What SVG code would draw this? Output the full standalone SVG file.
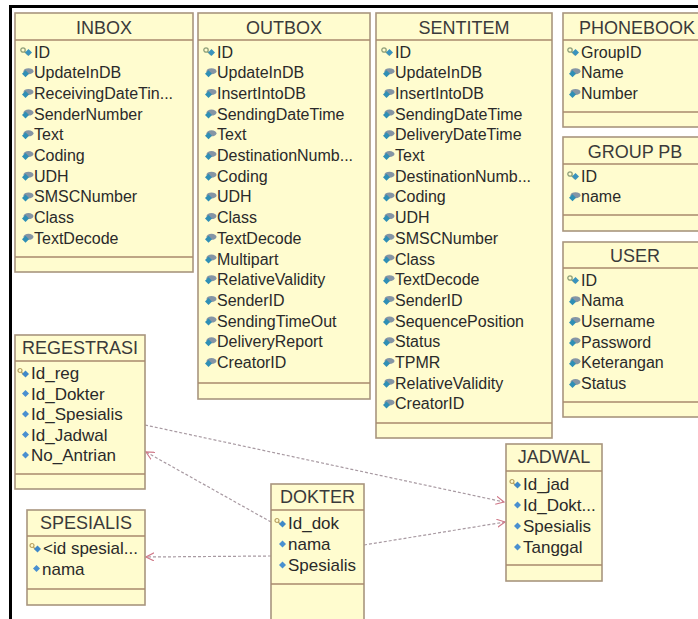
<svg xmlns="http://www.w3.org/2000/svg" xmlns:xlink="http://www.w3.org/1999/xlink" width="698" height="619" viewBox="0 0 698 619">
<style>
.box{fill:#fffccf;stroke:#a8957e;stroke-width:1.6}
.sep{stroke:#a88a6c;stroke-width:1.4}
.h{font-family:"Liberation Sans",Arial,sans-serif;font-size:18px;fill:#3a3a3a;text-anchor:middle}
.t{font-family:"Liberation Sans",Arial,sans-serif;font-size:16px;fill:#2a2a2a}
.l{font-family:"Liberation Sans",Arial,sans-serif;font-size:17px;fill:#2a2a2a}
.c{fill:none;stroke:#a89aa2;stroke-width:1.2;stroke-dasharray:3 2}
</style>
<defs>
<g id="fa"><ellipse cx="7.5" cy="3.5" rx="5" ry="3" fill="#8595a5"/><path d="M1,6 L4.5,2.5 L8,6 L4.5,9.5Z" fill="#2f8fb5"/></g>
<g id="pk"><circle cx="3" cy="3" r="2.2" fill="none" stroke="#8fa07a" stroke-width="1.3"/><path d="M4.5,4.5 L8,8" stroke="#8fa07a" stroke-width="1.3"/><path d="M5,5.5 L8.5,2 L12,5.5 L8.5,9Z" fill="#3a93bd"/></g>
<g id="dm"><path d="M1,5 L4.5,1.5 L8,5 L4.5,8.5Z" fill="#4a90d0"/></g>
<g id="lk"><circle cx="3" cy="2.5" r="2" fill="none" stroke="#b8a060" stroke-width="1.2"/><path d="M4.3,4 L7,7" stroke="#b8a060" stroke-width="1.2"/><path d="M5,6 L8.5,2.5 L12,6 L8.5,9.5Z" fill="#3f88c8"/></g>
<marker id="ar" viewBox="0 0 10 10" refX="9" refY="5" markerWidth="9" markerHeight="9" markerUnits="userSpaceOnUse" orient="auto"><path d="M0,0.5 L9,5 L0,9.5" fill="none" stroke="#d07888" stroke-width="1.3"/></marker>
</defs>
<rect width="698" height="619" fill="#ffffff"/>
<rect x="9" y="5" width="689" height="3" fill="#000"/>
<rect x="9" y="5" width="3" height="614" fill="#000"/>

<g id="inbox">
<rect class="box" x="15" y="13" width="178" height="259"/>
<line class="sep" x1="15" y1="40" x2="193" y2="40"/>
<line class="sep" x1="15" y1="257" x2="193" y2="257"/>
<text class="h" x="104" y="34">INBOX</text>
<use href="#pk" x="20" y="47"/><text class="t" x="34" y="57.5">ID</text>
<use href="#fa" x="21" y="67.7"/><text class="t" x="34" y="78.2">UpdateInDB</text>
<use href="#fa" x="21" y="88.4"/><text class="t" x="34" y="98.9">ReceivingDateTin...</text>
<use href="#fa" x="21" y="109.1"/><text class="t" x="34" y="119.6">SenderNumber</text>
<use href="#fa" x="21" y="129.8"/><text class="t" x="34" y="140.3">Text</text>
<use href="#fa" x="21" y="150.5"/><text class="t" x="34" y="161">Coding</text>
<use href="#fa" x="21" y="171.2"/><text class="t" x="34" y="181.7">UDH</text>
<use href="#fa" x="21" y="191.9"/><text class="t" x="34" y="202.4">SMSCNumber</text>
<use href="#fa" x="21" y="212.6"/><text class="t" x="34" y="223.1">Class</text>
<use href="#fa" x="21" y="233.3"/><text class="t" x="34" y="243.8">TextDecode</text>
</g>

<g id="outbox">
<rect class="box" x="198" y="13" width="172" height="386"/>
<line class="sep" x1="198" y1="40" x2="370" y2="40"/>
<line class="sep" x1="198" y1="383" x2="370" y2="383"/>
<text class="h" x="284" y="34">OUTBOX</text>
<use href="#pk" x="203" y="47"/><text class="t" x="217" y="57.5">ID</text>
<use href="#fa" x="204" y="67.7"/><text class="t" x="217" y="78.2">UpdateInDB</text>
<use href="#fa" x="204" y="88.4"/><text class="t" x="217" y="98.9">InsertIntoDB</text>
<use href="#fa" x="204" y="109.1"/><text class="t" x="217" y="119.6">SendingDateTime</text>
<use href="#fa" x="204" y="129.8"/><text class="t" x="217" y="140.3">Text</text>
<use href="#fa" x="204" y="150.5"/><text class="t" x="217" y="161">DestinationNumb...</text>
<use href="#fa" x="204" y="171.2"/><text class="t" x="217" y="181.7">Coding</text>
<use href="#fa" x="204" y="191.9"/><text class="t" x="217" y="202.4">UDH</text>
<use href="#fa" x="204" y="212.6"/><text class="t" x="217" y="223.1">Class</text>
<use href="#fa" x="204" y="233.3"/><text class="t" x="217" y="243.8">TextDecode</text>
<use href="#fa" x="204" y="254"/><text class="t" x="217" y="264.5">Multipart</text>
<use href="#fa" x="204" y="274.7"/><text class="t" x="217" y="285.2">RelativeValidity</text>
<use href="#fa" x="204" y="295.4"/><text class="t" x="217" y="305.9">SenderID</text>
<use href="#fa" x="204" y="316.1"/><text class="t" x="217" y="326.6">SendingTimeOut</text>
<use href="#fa" x="204" y="336.8"/><text class="t" x="217" y="347.3">DeliveryReport</text>
<use href="#fa" x="204" y="357.5"/><text class="t" x="217" y="368">CreatorID</text>
</g>

<g id="sentitem">
<rect class="box" x="376" y="13" width="176" height="425"/>
<line class="sep" x1="376" y1="40" x2="552" y2="40"/>
<line class="sep" x1="376" y1="423" x2="552" y2="423"/>
<text class="h" x="464" y="34">SENTITEM</text>
<use href="#pk" x="381" y="47"/><text class="t" x="395" y="57.5">ID</text>
<use href="#fa" x="382" y="67.7"/><text class="t" x="395" y="78.2">UpdateInDB</text>
<use href="#fa" x="382" y="88.4"/><text class="t" x="395" y="98.9">InsertIntoDB</text>
<use href="#fa" x="382" y="109.1"/><text class="t" x="395" y="119.6">SendingDateTime</text>
<use href="#fa" x="382" y="129.8"/><text class="t" x="395" y="140.3">DeliveryDateTime</text>
<use href="#fa" x="382" y="150.5"/><text class="t" x="395" y="161">Text</text>
<use href="#fa" x="382" y="171.2"/><text class="t" x="395" y="181.7">DestinationNumb...</text>
<use href="#fa" x="382" y="191.9"/><text class="t" x="395" y="202.4">Coding</text>
<use href="#fa" x="382" y="212.6"/><text class="t" x="395" y="223.1">UDH</text>
<use href="#fa" x="382" y="233.3"/><text class="t" x="395" y="243.8">SMSCNumber</text>
<use href="#fa" x="382" y="254"/><text class="t" x="395" y="264.5">Class</text>
<use href="#fa" x="382" y="274.7"/><text class="t" x="395" y="285.2">TextDecode</text>
<use href="#fa" x="382" y="295.4"/><text class="t" x="395" y="305.9">SenderID</text>
<use href="#fa" x="382" y="316.1"/><text class="t" x="395" y="326.6">SequencePosition</text>
<use href="#fa" x="382" y="336.8"/><text class="t" x="395" y="347.3">Status</text>
<use href="#fa" x="382" y="357.5"/><text class="t" x="395" y="368">TPMR</text>
<use href="#fa" x="382" y="378.2"/><text class="t" x="395" y="388.7">RelativeValidity</text>
<use href="#fa" x="382" y="398.9"/><text class="t" x="395" y="409.4">CreatorID</text>
</g>

<g id="phonebook">
<rect class="box" x="563" y="13" width="150" height="114"/>
<line class="sep" x1="563" y1="40" x2="713" y2="40"/>
<line class="sep" x1="563" y1="112" x2="713" y2="112"/>
<text class="h" x="637" y="34">PHONEBOOK</text>
<use href="#pk" x="567" y="47"/><text class="t" x="581" y="57.5">GroupID</text>
<use href="#fa" x="568" y="67.7"/><text class="t" x="581" y="78.2">Name</text>
<use href="#fa" x="568" y="88.4"/><text class="t" x="581" y="98.9">Number</text>
</g>

<g id="grouppb">
<rect class="box" x="563" y="137" width="150" height="94"/>
<line class="sep" x1="563" y1="164" x2="713" y2="164"/>
<line class="sep" x1="563" y1="215" x2="713" y2="215"/>
<text class="h" x="635" y="158">GROUP PB</text>
<use href="#pk" x="567" y="171"/><text class="t" x="581" y="181.5">ID</text>
<use href="#fa" x="568" y="191.7"/><text class="t" x="581" y="202.2">name</text>
</g>

<g id="user">
<rect class="box" x="563" y="242" width="150" height="175"/>
<line class="sep" x1="563" y1="268" x2="713" y2="268"/>
<line class="sep" x1="563" y1="402" x2="713" y2="402"/>
<text class="h" x="635" y="262">USER</text>
<use href="#pk" x="567" y="275"/><text class="t" x="581" y="285.5">ID</text>
<use href="#fa" x="568" y="295.7"/><text class="t" x="581" y="306.2">Nama</text>
<use href="#fa" x="568" y="316.4"/><text class="t" x="581" y="326.9">Username</text>
<use href="#fa" x="568" y="337.1"/><text class="t" x="581" y="347.6">Password</text>
<use href="#fa" x="568" y="357.8"/><text class="t" x="581" y="368.3">Keterangan</text>
<use href="#fa" x="568" y="378.5"/><text class="t" x="581" y="389">Status</text>
</g>

<g id="connectors">
<path class="c" d="M145,425 L504,502" marker-end="url(#ar)"/>
<path class="c" d="M271,522 L146,452" marker-end="url(#ar)"/>
<path class="c" d="M271,556 L146,557" marker-end="url(#ar)"/>
<path class="c" d="M364,545 L505,522" marker-end="url(#ar)"/>
</g>

<g id="regestrasi">
<rect class="box" x="15" y="335" width="130" height="154"/>
<line class="sep" x1="15" y1="361" x2="145" y2="361"/>
<line class="sep" x1="15" y1="474" x2="145" y2="474"/>
<text class="h" x="80" y="354">REGESTRASI</text>
<use href="#lk" x="17" y="368"/><text class="l" x="31" y="379">Id_reg</text>
<use href="#dm" x="21" y="388.5"/><text class="l" x="31" y="399.5">Id_Dokter</text>
<use href="#dm" x="21" y="409"/><text class="l" x="31" y="420">Id_Spesialis</text>
<use href="#dm" x="21" y="429.5"/><text class="l" x="31" y="440.5">Id_Jadwal</text>
<use href="#dm" x="21" y="450"/><text class="l" x="31" y="461">No_Antrian</text>
</g>

<g id="spesialis">
<rect class="box" x="27" y="510" width="118" height="95"/>
<line class="sep" x1="27" y1="536" x2="145" y2="536"/>
<line class="sep" x1="27" y1="589" x2="145" y2="589"/>
<text class="h" x="86" y="529">SPESIALIS</text>
<use href="#lk" x="29" y="543"/><text class="l" x="43" y="554">&lt;id spesial...</text>
<use href="#dm" x="32" y="563.5"/><text class="l" x="42" y="574.5">nama</text>
</g>

<g id="dokter">
<rect class="box" x="271" y="484" width="93" height="145"/>
<line class="sep" x1="271" y1="510" x2="364" y2="510"/>
<line class="sep" x1="271" y1="584" x2="364" y2="584"/>
<text class="h" x="317.5" y="503">DOKTER</text>
<use href="#lk" x="274" y="518"/><text class="l" x="288" y="529">Id_dok</text>
<use href="#dm" x="278" y="539"/><text class="l" x="288" y="550">nama</text>
<use href="#dm" x="278" y="560"/><text class="l" x="288" y="571">Spesialis</text>
</g>

<g id="jadwal">
<rect class="box" x="506" y="444" width="96" height="137"/>
<line class="sep" x1="506" y1="471" x2="602" y2="471"/>
<line class="sep" x1="506" y1="565" x2="602" y2="565"/>
<text class="h" x="554" y="463">JADWAL</text>
<use href="#lk" x="509" y="479"/><text class="l" x="523" y="490">Id_jad</text>
<use href="#dm" x="513" y="500"/><text class="l" x="523" y="511">Id_Dokt...</text>
<use href="#dm" x="513" y="521"/><text class="l" x="523" y="532">Spesialis</text>
<use href="#dm" x="513" y="542"/><text class="l" x="523" y="553">Tanggal</text>
</g>
</svg>
